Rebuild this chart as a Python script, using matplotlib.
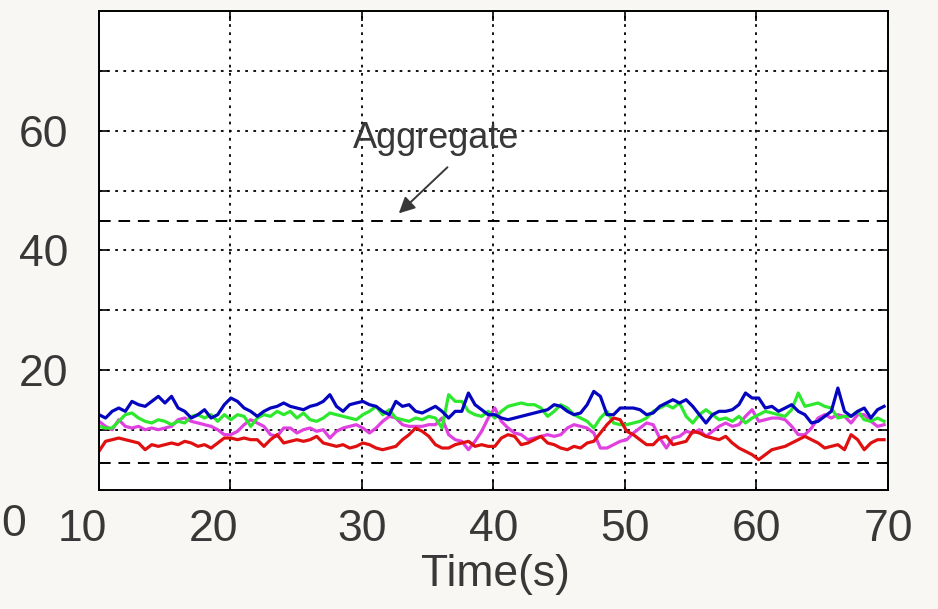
import numpy as np
import matplotlib
matplotlib.use("Agg")
import matplotlib.pyplot as plt
from matplotlib.transforms import ScaledTranslation

plt.rcParams['font.family'] = ['Liberation Sans', 'DejaVu Sans']

# flow throughput over time (sampled every ~0.5 s from 10 s to 69.7 s)
blue = [12.58, 12.02, 13.14, 13.69, 13.14, 14.80, 14.25, 13.97, 14.80, 15.64, 14.53, 15.64, 13.69, 13.14, 12.02, 12.58, 13.41, 12.02, 12.58, 14.25,
        15.36, 14.80, 13.69, 13.14, 12.30, 13.14, 13.69, 13.97, 14.53, 13.97, 13.69, 13.41, 13.97, 14.25, 14.80, 15.92, 13.97, 13.14, 14.25, 14.53,
        14.80, 14.25, 13.97, 13.14, 12.58, 14.80, 13.97, 14.25, 13.14, 12.86, 13.41, 13.97, 13.14, 12.02, 13.14, 13.14, 16.20, 14.25, 13.41, 12.58,
        12.58, 12.02, 11.74, 12.02, 12.30, 12.58, 12.86, 13.14, 13.41, 14.25, 13.97, 13.14, 12.58, 12.86, 14.25, 16.47, 15.64, 12.58, 12.58, 13.69,
        13.69, 13.69, 13.41, 12.58, 12.86, 13.97, 14.53, 15.08, 14.53, 15.08, 13.97, 12.58, 11.19, 12.58, 13.14, 13.14, 13.41, 14.25, 16.20, 15.36,
        15.36, 13.69, 13.97, 13.14, 13.69, 14.25, 13.14, 12.58, 11.19, 11.47, 12.30, 13.14, 17.03, 13.14, 12.30, 13.14, 13.69, 12.02, 13.41, 13.97]
green = [10.63, 10.35, 10.35, 11.47, 12.58, 12.86, 12.02, 11.47, 11.19, 11.74, 11.47, 10.91, 11.47, 11.19, 12.30, 12.58, 12.02, 12.58, 11.47, 12.58,
         11.74, 12.58, 12.30, 10.63, 12.02, 12.58, 12.30, 13.14, 12.58, 13.14, 12.02, 12.86, 11.74, 11.47, 12.02, 12.86, 12.58, 12.30, 12.02, 11.74,
         12.58, 13.14, 13.97, 12.58, 13.41, 12.02, 11.74, 11.47, 12.02, 11.74, 12.30, 12.02, 10.35, 15.92, 14.80, 14.80, 13.14, 12.58, 12.30, 13.14,
         12.02, 13.14, 13.97, 14.25, 14.53, 14.25, 14.25, 13.69, 12.30, 13.14, 14.25, 13.69, 12.58, 12.02, 11.47, 10.35, 12.02, 13.14, 11.19, 10.91,
         10.91, 11.19, 11.47, 12.02, 13.14, 13.69, 14.25, 13.69, 14.53, 12.30, 11.19, 12.58, 13.41, 12.58, 11.74, 12.02, 11.47, 12.30, 11.19, 12.02,
         12.58, 13.14, 12.86, 12.58, 12.30, 13.41, 16.20, 13.97, 14.25, 14.53, 13.97, 13.69, 12.02, 12.30, 12.30, 13.14, 11.74, 11.47, 12.02, 11.47]
magenta = [11.47, 10.63, 10.07, 11.74, 10.63, 10.35, 10.63, 10.07, 10.35, 10.07, 10.35, 10.63, 11.74, 12.02, 11.47, 11.19, 10.91, 10.63, 10.07, 9.24,
           9.24, 9.80, 10.91, 11.74, 11.19, 10.63, 9.24, 8.96, 10.35, 10.35, 9.52, 10.07, 10.35, 9.80, 10.07, 8.68, 9.80, 10.35, 10.63, 10.91,
           10.35, 9.52, 10.35, 11.47, 12.30, 12.02, 10.91, 10.63, 10.63, 10.63, 10.91, 10.91, 12.02, 9.24, 8.40, 8.13, 6.73, 8.13, 9.80, 12.02,
           13.69, 11.47, 10.35, 9.52, 9.24, 8.40, 8.68, 8.96, 9.24, 8.96, 9.24, 10.35, 10.91, 10.63, 10.35, 9.52, 7.01, 7.01, 7.57, 8.13,
           8.40, 9.52, 10.35, 11.19, 10.91, 8.68, 7.01, 8.68, 8.96, 9.80, 9.52, 10.07, 8.96, 9.80, 10.63, 11.19, 10.63, 10.91, 12.30, 13.41,
           11.47, 11.74, 12.02, 12.02, 11.74, 10.63, 9.24, 9.24, 10.35, 12.02, 12.58, 12.02, 12.58, 12.30, 11.19, 12.58, 12.58, 11.47, 10.63, 10.91]
red = [6.46, 8.13, 8.40, 8.68, 8.40, 8.13, 7.85, 6.73, 7.57, 7.29, 7.57, 7.85, 7.57, 8.13, 7.85, 7.29, 7.57, 7.01, 7.85, 8.68,
       8.68, 8.40, 8.68, 8.40, 8.40, 7.29, 8.40, 9.24, 7.85, 8.13, 8.40, 8.13, 8.40, 8.96, 7.85, 7.57, 7.29, 7.57, 7.01, 7.29,
       7.85, 7.57, 7.01, 6.73, 7.01, 7.29, 8.40, 9.24, 10.35, 9.80, 8.96, 7.57, 7.01, 7.01, 7.57, 7.85, 8.13, 7.29, 7.57, 7.29,
       7.29, 8.68, 9.24, 8.96, 7.57, 7.85, 8.40, 8.96, 7.85, 7.57, 7.01, 6.73, 7.29, 7.01, 7.85, 8.13, 9.52, 10.91, 12.02, 11.74,
       9.80, 9.24, 8.40, 7.57, 7.57, 8.68, 8.96, 7.57, 7.85, 8.13, 9.80, 9.52, 8.96, 8.68, 8.40, 8.96, 7.85, 7.01, 6.46, 5.90,
       5.07, 5.90, 6.73, 7.01, 7.29, 7.85, 8.40, 8.96, 8.40, 7.85, 7.01, 7.29, 7.57, 6.73, 9.24, 8.40, 6.73, 7.85, 8.40, 8.40]
t_start, t_end = 10, 69.7
aggregate = 45
fair_share = 4.5

x_ticks = [10, 20, 30, 40, 50, 60, 70]
y_ticks = [10, 20, 30, 40, 50, 60, 70]
y_labels = ['', '20', '', '40', '', '60', '']

t = np.linspace(t_start, t_end, len(blue))

fig = plt.figure(figsize=(9.38, 6.09), dpi=100, facecolor='#f8f7f4')
ax = fig.add_axes([0.1055, 0.1954, 0.8412, 0.7866])
ax.set_facecolor('white')

ax.plot(t, magenta, color='#e040e0', lw=2.3)
ax.plot(t, green, color='#2ee82e', lw=2.3)
ax.plot(t, red, color='#e01010', lw=2.3)
ax.plot(t, blue, color='#0505c0', lw=2.3)

ax.axhline(aggregate, color='black', lw=1.4, ls=(0, (6, 4)))
ax.axhline(fair_share, color='black', lw=1.4, ls=(0, (6, 4)))

ax.set_xlim(10, 70)
ax.set_ylim(0, 80)
ax.set_xticks(x_ticks)
ax.set_yticks(y_ticks)
ax.set_yticklabels(y_labels)
ax.grid(True, color='black', ls=(0, (1.5, 3)), lw=1.3)
ax.tick_params(direction='in', length=7, width=1.2, top=True, right=True,
               labelsize=32, labelcolor='#383838')
ax.tick_params(axis='x', pad=14)
ax.tick_params(axis='y', pad=22)
for s in ax.spines.values():
    s.set_linewidth(1.4)

# the first two x labels sit a little left of their ticks in the original
for lab in ax.get_xticklabels()[:2]:
    lab.set_transform(lab.get_transform() + ScaledTranslation(-0.17, 0, fig.dpi_scale_trans))

ax.text(35.65, 57.1, 'Aggregate', ha='center', va='baseline', fontsize=26, color='#383838')
ax.annotate('', xy=(32.8, 46.2), xytext=(36.5, 53.9),
            arrowprops=dict(arrowstyle='-|>', color='#383838', lw=1.4, mutation_scale=24,
                            shrinkA=0, shrinkB=0))

fig.text(495 / 938, 0.056, 'Time(s)', ha='center', va='center', fontsize=32, color='#383838')
# partial label from the neighbouring plot
fig.text(0.001, 1 - 525 / 609, '0', ha='left', va='center', fontsize=32, color='#383838')

fig.savefig('out.png', dpi=100, facecolor=fig.get_facecolor())
